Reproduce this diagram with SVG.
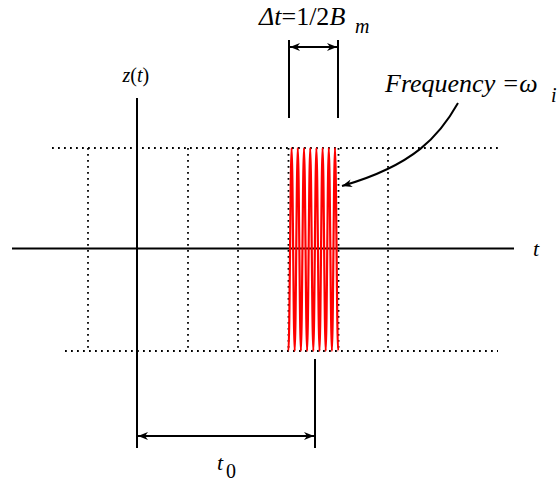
<svg xmlns="http://www.w3.org/2000/svg" width="558" height="481" viewBox="0 0 558 481">
<style>
.ax{stroke:#000;stroke-width:2;fill:none}
.dot{stroke:#000;stroke-width:1.8;stroke-dasharray:1.8 4.2;fill:none}
.sig{stroke:#ff0000;stroke-width:2.2;fill:none}
text{font-family:"Liberation Serif","Times New Roman",serif;font-style:italic;fill:#000}
.up{font-style:normal}
</style>
<defs>
<marker id="ah" viewBox="0 0 10 10" refX="10" refY="5" markerWidth="10" markerHeight="10" markerUnits="userSpaceOnUse" orient="auto-start-reverse">
<path d="M0,1 L10,5 L0,9 L3,5 Z" fill="#000"/>
</marker>
</defs>
<rect width="558" height="481" fill="#fff"/>
<g id="grid">
<line class="dot" x1="52" y1="148" x2="498" y2="148"/>
<line class="dot" x1="65" y1="351" x2="498" y2="351"/>
<line class="dot" x1="88" y1="148" x2="88" y2="351"/>
<line class="dot" x1="188" y1="148" x2="188" y2="351"/>
<line class="dot" x1="238" y1="148" x2="238" y2="351"/>
<line class="dot" x1="288.5" y1="148" x2="288.5" y2="351"/>
<line class="dot" x1="338.5" y1="148" x2="338.5" y2="351"/>
<line class="dot" x1="388" y1="148" x2="388" y2="351"/>
</g>
<g id="axes">
<line class="ax" x1="12" y1="248.5" x2="514" y2="248.5"/>
<line class="ax" x1="137" y1="98" x2="137" y2="448"/>
</g>
<g id="signal">
<path class="sig" d="M288.5,351 C289.6,351 290.5,148 291.6,148 C292.7,148 293.6,351 294.7,351 C295.8,351 296.7,148 297.8,148 C298.9,148 299.8,351 300.9,351 C302,351 302.9,148 304,148 C305.1,148 306,351 307.1,351 C308.2,351 309.1,148 310.2,148 C311.3,148 312.2,351 313.3,351 C314.4,351 315.3,148 316.4,148 C317.5,148 318.4,351 319.5,351 C320.6,351 321.5,148 322.6,148 C323.7,148 324.6,351 325.7,351 C326.8,351 327.7,148 328.8,148 C329.9,148 330.8,351 331.9,351 C333,351 333.9,148 335,148 C336.1,148 337,351 338.1,351"/>
</g>
<g id="connectors">
<line class="ax" x1="289" y1="40" x2="289" y2="118"/>
<line class="ax" x1="338" y1="40" x2="338" y2="118"/>
<line class="ax" x1="290" y1="47" x2="337" y2="47" marker-start="url(#ah)" marker-end="url(#ah)"/>
<line class="ax" x1="315" y1="359" x2="315" y2="448"/>
<line class="ax" x1="138" y1="436" x2="314" y2="436" marker-start="url(#ah)" marker-end="url(#ah)"/>
<path class="ax" d="M458,103 C440,135 415,165 342,186" marker-end="url(#ah)"/>
</g>
<g id="labels">
<text x="122.5" y="82" font-size="20">z<tspan class="up">(</tspan>t<tspan class="up">)</tspan></text>
<text x="533" y="256" font-size="22">t</text>
<text x="217" y="470" font-size="22">t</text>
<text class="up" x="226" y="478" font-size="20">0</text>
<text x="259" y="25" font-size="26">Δt<tspan class="up">=1/2</tspan>B</text>
<text x="355" y="33" font-size="20">m</text>
<text x="385" y="92" font-size="26">Frequency =ω</text>
<text x="551" y="102" font-size="20">i</text>
</g>
</svg>
